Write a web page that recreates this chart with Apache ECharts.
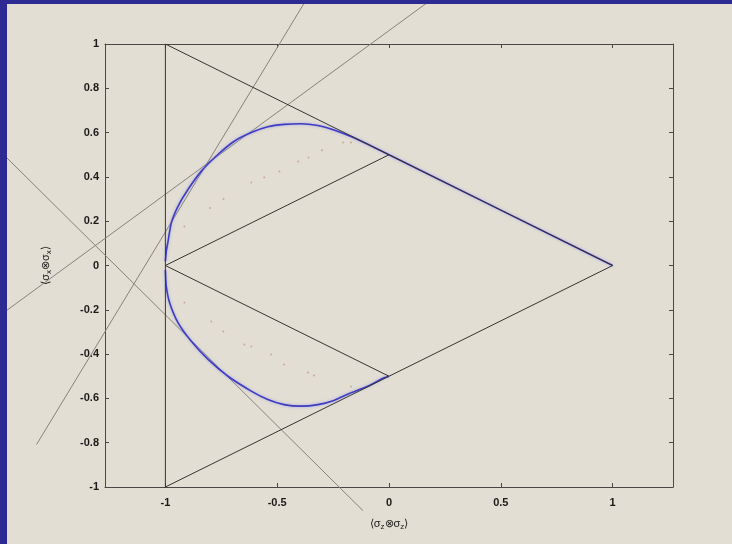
<!DOCTYPE html>
<html>
<head>
<meta charset="utf-8">
<title>Correlation bounds</title>
<script src="https://cdn.jsdelivr.net/npm/echarts@6/dist/echarts.min.js"></script>
<style>
  html, body { margin: 0; padding: 0; background: #e3ded3; }
  #chart { width: 732px; height: 544px; }
</style>
</head>
<body>
<div id="chart"></div>
<script>
// Tick positions
const xTicks = [-1, -0.5, 0, 0.5, 1];
const yTicks = [-1, -0.8, -0.6, -0.4, -0.2, 0, 0.2, 0.4, 0.6, 0.8, 1];

// Outer polytope edges (black)
const edgeVertical = [[-1, -1], [-1, 1]];
const edgeOuter = [[-1, 1], [1, 0], [-1, -1]];
const edgeInnerUp = [[-1, 0], [0, 0.5]];
const edgeInnerDown = [[-1, 0], [0, -0.5]];

// Witness lines (grey), running past the frame
const witnessA = [[-0.34, 1.25], [-1.576, -0.808]];
const witnessB = [[-1.76, -0.24], [0.27, 1.26]];
const witnessC = [[-1.76, 0.537], [-0.116, -1.107]];

// Boundary of the quantum set (blue)
const boundaryUpper = [
  [-1, 0.02], [-0.995, 0.07], [-0.988, 0.11], [-0.973, 0.194], [-0.943, 0.268],
  [-0.899, 0.343], [-0.839, 0.426], [-0.765, 0.501], [-0.692, 0.561], [-0.616, 0.600],
  [-0.542, 0.626], [-0.469, 0.637], [-0.393, 0.640], [-0.318, 0.632], [-0.246, 0.612],
  [-0.170, 0.582], [-0.095, 0.547], [0, 0.5], [1, 0]
];
const boundaryLower = [
  [-1, -0.02], [-0.996, -0.093], [-0.981, -0.168], [-0.943, -0.259], [-0.884, -0.342],
  [-0.809, -0.424], [-0.720, -0.500], [-0.616, -0.567], [-0.542, -0.605], [-0.469, -0.628],
  [-0.393, -0.635], [-0.318, -0.628], [-0.246, -0.609], [-0.170, -0.575], [-0.095, -0.545],
  [-0.022, -0.507], [0, -0.5]
];

// Sampled states (faint dots)
const samplesUpper = [
  [-0.915, 0.176], [-0.80, 0.26], [-0.74, 0.30], [-0.616, 0.375], [-0.558, 0.397],
  [-0.49, 0.424], [-0.406, 0.47], [-0.36, 0.488], [-0.30, 0.52], [-0.205, 0.555], [-0.17, 0.555]
];
const samplesLower = [
  [-0.915, -0.167], [-0.795, -0.253], [-0.741, -0.298], [-0.647, -0.357], [-0.616, -0.366],
  [-0.527, -0.402], [-0.469, -0.447], [-0.362, -0.483], [-0.335, -0.497], [-0.17, -0.546]
];

const FONT = 'Liberation Sans, Arial, sans-serif';
const frameColor = '#4a4844';
const edgeColor = '#353432';
const greyColor = '#86837c';

// Plot frame geometry (pixels) and data ranges
const W = 732, H = 544;
const G = { left: 105, right: 59, top: 44, bottom: 57 };
const X_RANGE = [-1.27, 1.27], Y_RANGE = [-1, 1];
// The same scale stretched over the whole canvas, so witness lines can leave the frame
const pxPerX = (W - G.left - G.right) / (X_RANGE[1] - X_RANGE[0]);
const pxPerY = (H - G.top - G.bottom) / (Y_RANGE[1] - Y_RANGE[0]);
const FULL_X = [X_RANGE[0] - G.left / pxPerX, X_RANGE[1] + G.right / pxPerX];
const FULL_Y = [Y_RANGE[0] - G.bottom / pxPerY, Y_RANGE[1] + G.top / pxPerY];

function lineSeries(data, color, width, z, axisIndex) {
  return {
    type: 'line', data: data, showSymbol: false, symbol: 'none',
    xAxisIndex: axisIndex, yAxisIndex: axisIndex,
    lineStyle: { color: color, width: width }, silent: true, z: z
  };
}

const axisCommon = {
  type: 'value', gridIndex: 0,
  axisLine: { show: true, onZero: false, lineStyle: { color: frameColor, width: 1 } },
  axisTick: { show: true, inside: true, length: 4, lineStyle: { color: frameColor } },
  splitLine: { show: false }
};
const hiddenAxis = {
  type: 'value', gridIndex: 1, show: false,
  axisLine: { show: false }, axisTick: { show: false }, axisLabel: { show: false },
  splitLine: { show: false }
};
const nameStyle = {
  fontFamily: FONT, fontSize: 11, color: '#1a1a1a',
  rich: { s: { fontSize: 8, fontFamily: FONT, color: '#1a1a1a', padding: [6, 0, 0, 0] } }
};

const chart = echarts.init(document.getElementById('chart'), null, { renderer: 'canvas' });
chart.setOption({
  animation: false,
  backgroundColor: '#e3ded3',
  grid: [
    { left: G.left, right: G.right, top: G.top, bottom: G.bottom, containLabel: false },
    { left: 0, right: 0, top: 0, bottom: 0, containLabel: false }
  ],
  xAxis: [
    Object.assign({}, axisCommon, {
      min: X_RANGE[0], max: X_RANGE[1], position: 'bottom',
      axisTick: Object.assign({}, axisCommon.axisTick, { customValues: xTicks }),
      axisLabel: {
        customValues: xTicks, margin: 10, color: '#1a1a1a',
        fontFamily: FONT, fontSize: 11, fontWeight: 'bold'
      },
      name: '⟨σ{s|z}⊗σ{s|z}⟩',
      nameLocation: 'middle', nameGap: 30,
      nameTextStyle: nameStyle
    }),
    Object.assign({}, axisCommon, {
      min: X_RANGE[0], max: X_RANGE[1], position: 'top',
      axisTick: Object.assign({}, axisCommon.axisTick, { customValues: xTicks }),
      axisLabel: { show: false }
    }),
    Object.assign({}, hiddenAxis, { min: FULL_X[0], max: FULL_X[1] })
  ],
  yAxis: [
    Object.assign({}, axisCommon, {
      min: Y_RANGE[0], max: Y_RANGE[1], interval: 0.2, position: 'left',
      axisLabel: {
        margin: 6, color: '#1a1a1a', fontFamily: FONT, fontSize: 11, fontWeight: 'bold',
        formatter: function (v) { return String(Math.round(v * 10) / 10); }
      },
      name: '⟨σ{s|x}⊗σ{s|x}⟩',
      nameLocation: 'middle', nameGap: 52, nameRotate: 90,
      nameTextStyle: nameStyle
    }),
    Object.assign({}, axisCommon, {
      min: Y_RANGE[0], max: Y_RANGE[1], interval: 0.2, position: 'right',
      axisLabel: { show: false }
    }),
    Object.assign({}, hiddenAxis, { min: FULL_Y[0], max: FULL_Y[1] })
  ],
  series: [
    lineSeries(witnessA, greyColor, 1, 2, 2),
    lineSeries(witnessB, greyColor, 1, 2, 2),
    lineSeries(witnessC, greyColor, 1, 2, 2),
    {
      type: 'scatter', data: samplesUpper.concat(samplesLower), symbolSize: 2,
      xAxisIndex: 0, yAxisIndex: 0,
      itemStyle: { color: '#c89a8f' }, silent: true, z: 3
    },
    {
      type: 'line', data: boundaryUpper, showSymbol: false, symbol: 'none', smooth: 0.2,
      xAxisIndex: 0, yAxisIndex: 0,
      lineStyle: { color: '#3d3cc2', width: 1.6, shadowColor: 'rgba(120,120,235,0.6)', shadowBlur: 3 },
      silent: true, z: 4
    },
    {
      type: 'line', data: boundaryLower, showSymbol: false, symbol: 'none', smooth: 0.2,
      xAxisIndex: 0, yAxisIndex: 0,
      lineStyle: { color: '#3d3cc2', width: 1.6, shadowColor: 'rgba(120,120,235,0.6)', shadowBlur: 3 },
      silent: true, z: 4
    },
    lineSeries(edgeVertical, edgeColor, 1, 5, 0),
    lineSeries(edgeOuter, edgeColor, 1, 5, 0),
    lineSeries(edgeInnerUp, edgeColor, 1, 5, 0),
    lineSeries(edgeInnerDown, edgeColor, 1, 5, 0)
  ],
  graphic: [
    { type: 'rect', z: 100, shape: { x: 0, y: 0, width: 732, height: 4 }, style: { fill: '#2d2b93' } },
    { type: 'rect', z: 100, shape: { x: 0, y: 0, width: 7, height: 544 }, style: { fill: '#2d2b93' } }
  ]
});
</script>
</body>
</html>
